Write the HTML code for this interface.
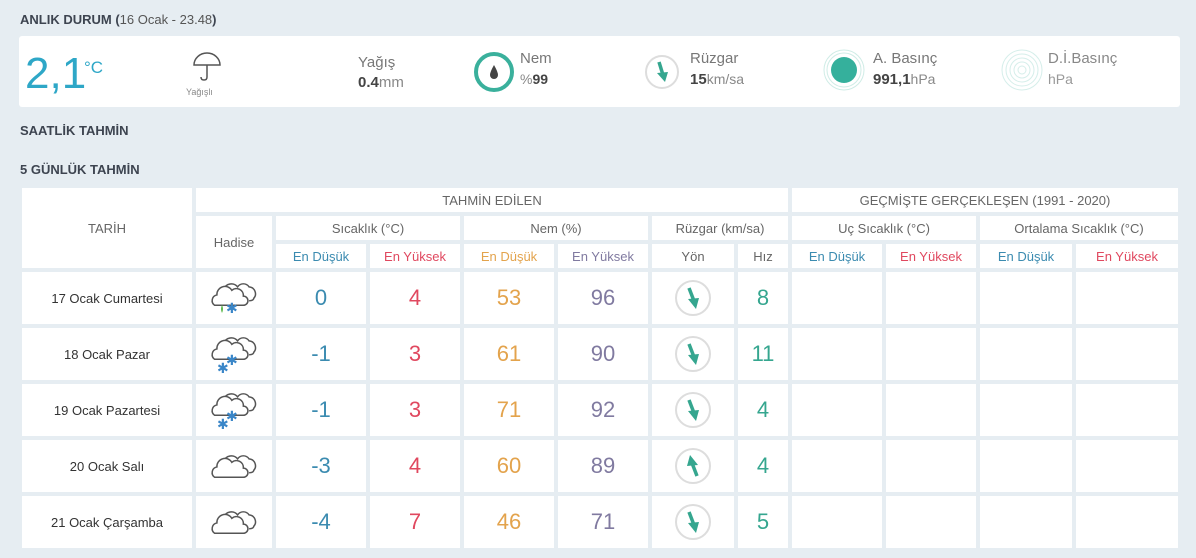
<!DOCTYPE html>
<html><head><meta charset="utf-8"><style>
body{margin:0;width:1196px;height:558px;background:#e6edf2;font-family:"Liberation Sans",sans-serif;position:relative;overflow:hidden;color:#555}
.a{position:absolute}
.h{font-weight:bold;font-size:13px;color:#3d4450}
.c{position:absolute;background:#fff;display:flex;align-items:center;justify-content:center;text-align:center}
.sm{font-size:13px;color:#666}
.big{font-size:22px}
.lo{color:#3b8bb0}.hi{color:#e0485f}.or{color:#e3a34c}.pu{color:#807aa0}.tl{color:#35a68f}
</style></head><body>
<div class="a h" style="left:20px;top:12px">ANLIK DURUM (<span style="font-weight:normal;color:#555">16 Ocak - 23.48</span>)</div>
<div class="a" style="left:19px;top:36px;width:1161px;height:71px;background:#fff;border-radius:3px"></div>
<div class="a" style="left:25px;top:50px;font-size:44px;color:#2ea7c7;line-height:48px">2,1</div>
<div class="a" style="left:84px;top:58px;font-size:17px;color:#2ea7c7">°C</div>
<svg class="a" style="left:191px;top:51px" width="32" height="32"><path d="M3 14 A13 12 0 0 1 29 14 Z" fill="none" stroke="#555" stroke-width="1.5"/><path d="M16 14 V26 Q16 29 13 29 Q10 29 10 26" fill="none" stroke="#555" stroke-width="1.5"/></svg>
<div class="a" style="left:186px;top:87px;font-size:9px;color:#888">Yağışlı</div>
<div class="a" style="left:358px;top:54px;font-size:15px;color:#777">Yağış</div>
<div class="a" style="left:358px;top:74px;font-size:15px;color:#888"><b style="color:#444">0.4</b>mm</div>
<svg class="a" style="left:472px;top:50px" width="44" height="44"><circle cx="22" cy="22" r="18" fill="none" stroke="#3ab09c" stroke-width="4"/><path d="M22 15 Q18 22 18 25 A4 4 0 0 0 26 25 Q26 22 22 15Z" fill="#444"/></svg>
<div class="a" style="left:520px;top:50px;font-size:15px;color:#777">Nem</div>
<div class="a" style="left:520px;top:71px;font-size:14px;color:#888">%<b style="color:#444">99</b></div>
<svg class="a" style="left:642px;top:52px" width="40" height="40"><circle cx="20" cy="20" r="16" fill="none" stroke="#ddd" stroke-width="2"/><path d="M17 10 L21 23" stroke="#35a68f" stroke-width="3.5"/><path d="M15 21 L26 20 L23 30Z" fill="#35a68f"/></svg>
<div class="a" style="left:690px;top:50px;font-size:15px;color:#777">Rüzgar</div>
<div class="a" style="left:690px;top:71px;font-size:14px;color:#888"><b style="color:#444;font-size:15px">15</b>km/sa</div>
<svg class="a" style="left:822px;top:48px" width="44" height="44"><circle cx="22" cy="22" r="20" fill="none" stroke="#cfece6" stroke-width="1"/><circle cx="22" cy="22" r="17" fill="none" stroke="#cfece6"/><circle cx="22" cy="22" r="13" fill="#35b09c"/></svg>
<div class="a" style="left:873px;top:50px;font-size:15px;color:#777">A. Basınç</div>
<div class="a" style="left:873px;top:71px;font-size:14px;color:#888"><b style="color:#444;font-size:15px">991,1</b>hPa</div>
<svg class="a" style="left:1000px;top:48px" width="44" height="44"><circle cx="22" cy="22" r="20" fill="none" stroke="#d5eeea"/><circle cx="22" cy="22" r="16" fill="none" stroke="#d5eeea"/><circle cx="22" cy="22" r="12" fill="none" stroke="#d5eeea"/><circle cx="22" cy="22" r="8" fill="none" stroke="#d5eeea"/><circle cx="22" cy="22" r="4" fill="none" stroke="#d5eeea"/></svg>
<div class="a" style="left:1048px;top:50px;font-size:15px;color:#888">D.İ.Basınç</div>
<div class="a" style="left:1048px;top:71px;font-size:14px;color:#999">hPa</div>
<div class="a h" style="left:20px;top:123px">SAATLİK TAHMİN</div>
<div class="a h" style="left:20px;top:162px">5 GÜNLÜK TAHMİN</div>

<div class="c sm" style="left:22px;top:188px;width:170px;height:80px">TARİH</div>
<div class="c sm" style="left:196px;top:188px;width:592px;height:24px">TAHMİN EDİLEN</div>
<div class="c sm" style="left:792px;top:188px;width:386px;height:24px">GEÇMİŞTE GERÇEKLEŞEN (1991 - 2020)</div>
<div class="c sm" style="left:196px;top:216px;width:76px;height:52px">Hadise</div>
<div class="c sm" style="left:276px;top:216px;width:184px;height:24px">Sıcaklık (°C)</div>
<div class="c sm" style="left:464px;top:216px;width:184px;height:24px">Nem (%)</div>
<div class="c sm" style="left:652px;top:216px;width:136px;height:24px">Rüzgar (km/sa)</div>
<div class="c sm" style="left:792px;top:216px;width:184px;height:24px">Uç Sıcaklık (°C)</div>
<div class="c sm" style="left:980px;top:216px;width:198px;height:24px">Ortalama Sıcaklık (°C)</div>
<div class="c sm lo" style="left:276px;top:244px;width:90px;height:24px">En Düşük</div>
<div class="c sm hi" style="left:370px;top:244px;width:90px;height:24px">En Yüksek</div>
<div class="c sm or" style="left:464px;top:244px;width:90px;height:24px">En Düşük</div>
<div class="c sm pu" style="left:558px;top:244px;width:90px;height:24px">En Yüksek</div>
<div class="c sm" style="left:652px;top:244px;width:82px;height:24px">Yön</div>
<div class="c sm" style="left:738px;top:244px;width:50px;height:24px">Hız</div>
<div class="c sm lo" style="left:792px;top:244px;width:90px;height:24px">En Düşük</div>
<div class="c sm hi" style="left:886px;top:244px;width:90px;height:24px">En Yüksek</div>
<div class="c sm lo" style="left:980px;top:244px;width:92px;height:24px">En Düşük</div>
<div class="c sm hi" style="left:1076px;top:244px;width:102px;height:24px">En Yüksek</div>

<svg width="0" height="0" style="position:absolute"><defs>
<g id="cl" transform="scale(1.15)"><path d="M10 18 A6 6 0 0 1 12 8 A7 7 0 0 1 24 6 A6 6 0 0 1 34 6 A6 6 0 0 1 38 16 Q38 18 34 18" fill="none" stroke="#555" stroke-width="1.3"/><path d="M4 22 A5 5 0 0 1 6 13 A7 7 0 0 1 19 9 A6 6 0 0 1 29 14 A4 4 0 0 1 29 22 Z" fill="#fff" stroke="#555" stroke-width="1.3"/></g>
<g id="ar"><circle cx="20" cy="20" r="17" fill="none" stroke="#ddd" stroke-width="2"/><path d="M16 10 L21 23" stroke="#35a68f" stroke-width="3.5"/><path d="M15 21 L26 20 L23 31Z" fill="#35a68f"/></g>
</defs></svg>

<div class="c sm" style="left:22px;top:272px;width:170px;height:52px;color:#333">17 Ocak Cumartesi</div>
<div class="c" style="left:196px;top:272px;width:76px;height:52px"><svg width="48" height="36"><use href="#cl"/><path d="M12 33 Q10 29 12 25 Q14 29 12 33Z" fill="#5bb84a"/><text x="16" y="33" font-size="14" fill="#3a86c8">✱</text></svg></div>
<div class="c big lo" style="left:276px;top:272px;width:90px;height:52px">0</div>
<div class="c big hi" style="left:370px;top:272px;width:90px;height:52px">4</div>
<div class="c big or" style="left:464px;top:272px;width:90px;height:52px">53</div>
<div class="c big pu" style="left:558px;top:272px;width:90px;height:52px">96</div>
<div class="c" style="left:652px;top:272px;width:82px;height:52px"><svg width="40" height="40"><use href="#ar"/></svg></div>
<div class="c big tl" style="left:738px;top:272px;width:50px;height:52px">8</div>

<div class="c sm" style="left:22px;top:328px;width:170px;height:52px;color:#333">18 Ocak Pazar</div>
<div class="c" style="left:196px;top:328px;width:76px;height:52px"><svg width="48" height="40"><use href="#cl"/><text x="16" y="31" font-size="14" fill="#3a86c8">✱</text><text x="7" y="39" font-size="14" fill="#3a86c8">✱</text></svg></div>
<div class="c big lo" style="left:276px;top:328px;width:90px;height:52px">-1</div>
<div class="c big hi" style="left:370px;top:328px;width:90px;height:52px">3</div>
<div class="c big or" style="left:464px;top:328px;width:90px;height:52px">61</div>
<div class="c big pu" style="left:558px;top:328px;width:90px;height:52px">90</div>
<div class="c" style="left:652px;top:328px;width:82px;height:52px"><svg width="40" height="40"><use href="#ar"/></svg></div>
<div class="c big tl" style="left:738px;top:328px;width:50px;height:52px">11</div>

<div class="c sm" style="left:22px;top:384px;width:170px;height:52px;color:#333">19 Ocak Pazartesi</div>
<div class="c" style="left:196px;top:384px;width:76px;height:52px"><svg width="48" height="40"><use href="#cl"/><text x="16" y="31" font-size="14" fill="#3a86c8">✱</text><text x="7" y="39" font-size="14" fill="#3a86c8">✱</text></svg></div>
<div class="c big lo" style="left:276px;top:384px;width:90px;height:52px">-1</div>
<div class="c big hi" style="left:370px;top:384px;width:90px;height:52px">3</div>
<div class="c big or" style="left:464px;top:384px;width:90px;height:52px">71</div>
<div class="c big pu" style="left:558px;top:384px;width:90px;height:52px">92</div>
<div class="c" style="left:652px;top:384px;width:82px;height:52px"><svg width="40" height="40"><use href="#ar"/></svg></div>
<div class="c big tl" style="left:738px;top:384px;width:50px;height:52px">4</div>

<div class="c sm" style="left:22px;top:440px;width:170px;height:52px;color:#333">20 Ocak Salı</div>
<div class="c" style="left:196px;top:440px;width:76px;height:52px"><svg width="48" height="28"><use href="#cl"/></svg></div>
<div class="c big lo" style="left:276px;top:440px;width:90px;height:52px">-3</div>
<div class="c big hi" style="left:370px;top:440px;width:90px;height:52px">4</div>
<div class="c big or" style="left:464px;top:440px;width:90px;height:52px">60</div>
<div class="c big pu" style="left:558px;top:440px;width:90px;height:52px">89</div>
<div class="c" style="left:652px;top:440px;width:82px;height:52px"><svg width="40" height="40"><g transform="rotate(180 20 20)"><use href="#ar"/></g></svg></div>
<div class="c big tl" style="left:738px;top:440px;width:50px;height:52px">4</div>

<div class="c sm" style="left:22px;top:496px;width:170px;height:52px;color:#333">21 Ocak Çarşamba</div>
<div class="c" style="left:196px;top:496px;width:76px;height:52px"><svg width="48" height="28"><use href="#cl"/></svg></div>
<div class="c big lo" style="left:276px;top:496px;width:90px;height:52px">-4</div>
<div class="c big hi" style="left:370px;top:496px;width:90px;height:52px">7</div>
<div class="c big or" style="left:464px;top:496px;width:90px;height:52px">46</div>
<div class="c big pu" style="left:558px;top:496px;width:90px;height:52px">71</div>
<div class="c" style="left:652px;top:496px;width:82px;height:52px"><svg width="40" height="40"><use href="#ar"/></svg></div>
<div class="c big tl" style="left:738px;top:496px;width:50px;height:52px">5</div>

<div class="c" style="left:792px;top:272px;width:90px;height:52px"></div><div class="c" style="left:886px;top:272px;width:90px;height:52px"></div><div class="c" style="left:980px;top:272px;width:92px;height:52px"></div><div class="c" style="left:1076px;top:272px;width:102px;height:52px"></div>
<div class="c" style="left:792px;top:328px;width:90px;height:52px"></div><div class="c" style="left:886px;top:328px;width:90px;height:52px"></div><div class="c" style="left:980px;top:328px;width:92px;height:52px"></div><div class="c" style="left:1076px;top:328px;width:102px;height:52px"></div>
<div class="c" style="left:792px;top:384px;width:90px;height:52px"></div><div class="c" style="left:886px;top:384px;width:90px;height:52px"></div><div class="c" style="left:980px;top:384px;width:92px;height:52px"></div><div class="c" style="left:1076px;top:384px;width:102px;height:52px"></div>
<div class="c" style="left:792px;top:440px;width:90px;height:52px"></div><div class="c" style="left:886px;top:440px;width:90px;height:52px"></div><div class="c" style="left:980px;top:440px;width:92px;height:52px"></div><div class="c" style="left:1076px;top:440px;width:102px;height:52px"></div>
<div class="c" style="left:792px;top:496px;width:90px;height:52px"></div><div class="c" style="left:886px;top:496px;width:90px;height:52px"></div><div class="c" style="left:980px;top:496px;width:92px;height:52px"></div><div class="c" style="left:1076px;top:496px;width:102px;height:52px"></div>
</body></html>
